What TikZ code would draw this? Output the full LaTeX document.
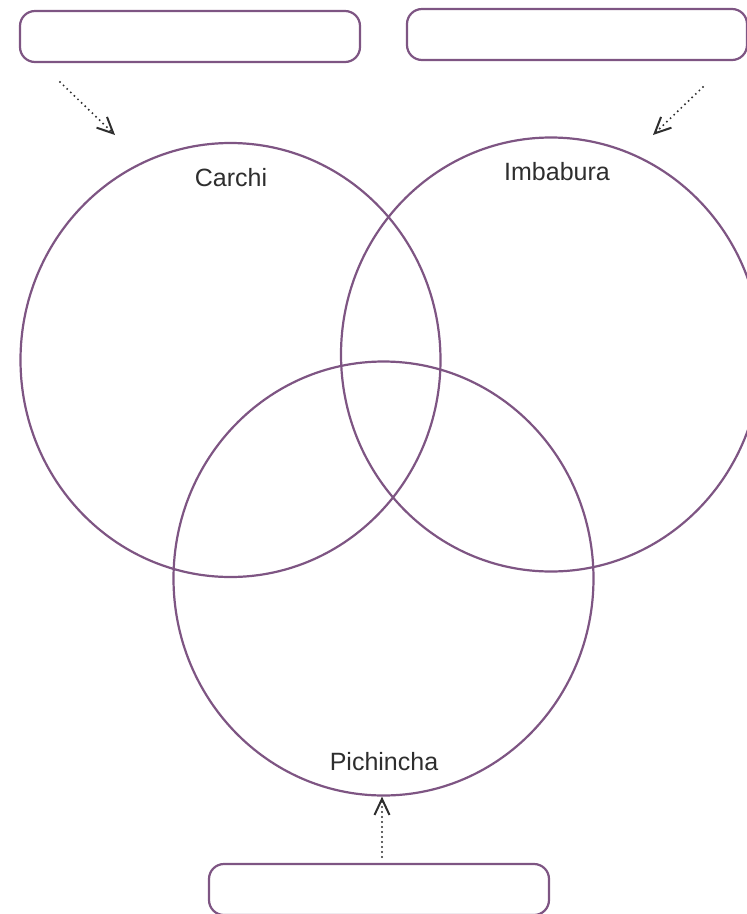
\documentclass[tikz,border=0pt]{standalone}
\usepackage{fontspec}
\setmainfont{Liberation Sans}
\usetikzlibrary{shapes.geometric,
                arrows.meta}
\definecolor{vennpurple}{HTML}{7E5583}
\definecolor{labelgray}{HTML}{2E2E2E}
\tikzset{setcircle/.style =
   {ellipse,
    draw=vennpurple,
    line width=2.2pt,
    minimum width=420pt,
    minimum height=434pt}}
\tikzset{answerbox/.style =
   {rectangle,
    rounded corners=15pt,
    draw=vennpurple,
    line width=2.2pt,
    minimum width=340pt,
    minimum height=51pt}}
\tikzset{setlabel/.style = {text=labelgray, font=\fontsize{25}{30}\selectfont}}
\tikzset{pointer/.style =
   {draw=labelgray,
    line width=2.2pt,
    line cap=round,
    dash pattern=on 0pt off 5pt,
    -{Straight Barb[length=16pt,width=15pt,line width=2pt]}}}

\begin{document}
\begin{tikzpicture}[x=1pt, y=-1pt]

        \useasboundingbox (0,0) rectangle (747,914);

        % sets
        \node [setcircle] (carchi) at (230.5,360) {};
        \node [setcircle] (imbabura) at (551,354.5) {};
        \node [setcircle] (pichincha) at (383.5,578.5) {};

        \node [setlabel] (carchilabel) at (231,178) {Carchi};
        \node [setlabel] (imbaburalabel) at (557,172) {Imbabura};
        \node [setlabel] (pichinchalabel) at (384,762) {Pichincha};

        % answer boxes
        \node [answerbox] (boxcarchi) at (190,36.5) {};
        \node [answerbox] (boximbabura) at (577,34.5) {};
        \node [answerbox] (boxpichincha) at (379,889.5) {};

        \coordinate (startcarchi) at (60,82);
        \coordinate (endcarchi) at (115,135);
        \coordinate (startimbabura) at (703,87);
        \coordinate (endimbabura) at (653,135);
        \coordinate (startpichincha) at (382,857);

        \draw [pointer] (startcarchi) -- (endcarchi);
        \draw [pointer] (startimbabura) -- (endimbabura);
        \draw [pointer] (startpichincha) -- (pichincha.south -| startpichincha);

\end{tikzpicture}
\end{document}
